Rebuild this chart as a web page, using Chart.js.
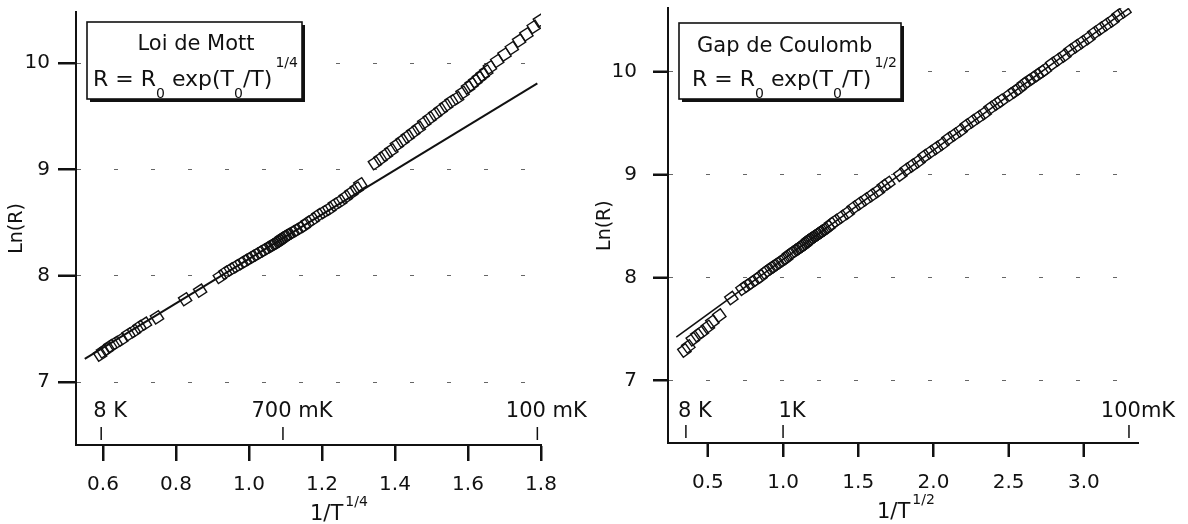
<!DOCTYPE html>
<html><head><meta charset="utf-8">
<script src="https://cdn.jsdelivr.net/npm/chart.js@4.4.1/dist/chart.umd.min.js"></script>
<style>
html,body{margin:0;padding:0;background:#fff;width:1188px;height:524px;overflow:hidden}
.panel{position:absolute;top:0;width:594px;height:524px}
#p1{left:0}#p2{left:594px}
</style></head><body>
<div class="panel" id="p1"><canvas id="c1"></canvas></div>
<div class="panel" id="p2"><canvas id="c2"></canvas></div>
<script>
// ---------- DATA ----------
const mottX = [0.592,0.600,0.610,0.620,0.635,0.650,0.670,0.685,0.700,0.715,0.748,0.825,0.866,0.920,0.935,0.950,0.965,0.980,0.990,1.000,1.010,1.020,1.030,1.040,1.050,1.060,1.065,1.070,1.075,1.080,1.085,1.090,1.095,1.100,1.105,1.110,1.120,1.130,1.140,1.150,1.160,1.175,1.190,1.205,1.220,1.235,1.250,1.265,1.280,1.295,1.305,1.345,1.360,1.375,1.390,1.405,1.420,1.435,1.450,1.465,1.480,1.495,1.510,1.525,1.540,1.555,1.570,1.585,1.600,1.610,1.620,1.630,1.640,1.650,1.660,1.680,1.700,1.720,1.740,1.760,1.780,1.797];
const mottY = [7.26,7.29,7.31,7.34,7.37,7.40,7.45,7.48,7.52,7.55,7.61,7.78,7.86,7.99,8.03,8.06,8.09,8.12,8.14,8.16,8.18,8.20,8.22,8.24,8.26,8.28,8.29,8.30,8.31,8.32,8.33,8.35,8.36,8.37,8.38,8.39,8.41,8.43,8.45,8.47,8.50,8.53,8.57,8.60,8.63,8.67,8.70,8.74,8.78,8.82,8.86,9.06,9.10,9.14,9.18,9.23,9.27,9.31,9.35,9.39,9.44,9.48,9.52,9.56,9.60,9.64,9.67,9.72,9.77,9.80,9.83,9.86,9.89,9.92,9.96,10.02,10.08,10.14,10.21,10.27,10.34,10.40];
const mottFitX = [0.55, 1.79];
const mottFitY = [7.22, 9.81];
const mottXTicks = [0.6, 0.8, 1.0, 1.2, 1.4, 1.6, 1.8];
const mottXTickLabels = ['0.6','0.8','1.0','1.2','1.4','1.6','1.8'];
const mottTempTicks = [0.595, 1.093, 1.79];
const mottTempLabels = ['8 K', '700 mK', '100 mK'];

const coulX = [0.344,0.370,0.400,0.430,0.460,0.500,0.530,0.576,0.656,0.730,0.760,0.790,0.820,0.850,0.880,0.900,0.920,0.940,0.960,0.980,1.000,1.020,1.040,1.060,1.080,1.100,1.110,1.120,1.130,1.140,1.150,1.160,1.170,1.180,1.190,1.200,1.210,1.220,1.230,1.240,1.250,1.260,1.280,1.300,1.320,1.350,1.390,1.430,1.470,1.510,1.550,1.590,1.630,1.670,1.700,1.780,1.820,1.860,1.900,1.940,1.980,2.020,2.060,2.100,2.140,2.180,2.220,2.260,2.300,2.340,2.380,2.420,2.450,2.510,2.540,2.570,2.600,2.630,2.660,2.690,2.720,2.740,2.790,2.830,2.870,2.910,2.950,2.990,3.030,3.070,3.110,3.150,3.190,3.230,3.270];
const coulY = [7.29,7.33,7.40,7.44,7.47,7.52,7.57,7.63,7.80,7.89,7.92,7.95,7.98,8.01,8.05,8.07,8.09,8.11,8.13,8.15,8.17,8.19,8.22,8.24,8.26,8.28,8.29,8.30,8.31,8.32,8.33,8.35,8.36,8.37,8.38,8.39,8.40,8.41,8.42,8.43,8.44,8.45,8.47,8.49,8.52,8.55,8.59,8.63,8.68,8.72,8.76,8.80,8.84,8.89,8.92,9.00,9.05,9.09,9.13,9.18,9.22,9.26,9.30,9.35,9.39,9.43,9.48,9.52,9.56,9.60,9.65,9.69,9.72,9.78,9.81,9.84,9.88,9.91,9.94,9.97,10.00,10.02,10.08,10.12,10.16,10.21,10.25,10.29,10.33,10.38,10.42,10.46,10.50,10.55,10.59];
const coulFitX = [0.29, 3.30];
const coulFitY = [7.42, 10.62];
const coulXTicks = [0.5, 1.0, 1.5, 2.0, 2.5, 3.0];
const coulXTickLabels = ['0.5','1.0','1.5','2.0','2.5','3.0'];
const coulTempTicks = [0.354, 1.0, 3.30];
const coulTempLabels = ['8 K', '1K', '100mK'];

const yTicks = [7, 8, 9, 10];
const yTickLabels = ['7', '8', '9', '10'];
// ---------------------------

const FONT = "'DejaVu Sans', 'Liberation Sans', sans-serif";
const INK = '#111';

function pts(xs, ys) { return xs.map((x, i) => ({x: x, y: ys[i]})); }

function drawFormula(ctx, x, y, sup) {
  const big = '22px ' + FONT, small = '14px ' + FONT;
  const parts = [
    ['R = R', big, 0], ['0', small, 12], [' exp(T', big, 0], ['0', small, 12], ['/T)', big, 0]
  ];
  let cx = x;
  for (const [t, f, dy] of parts) {
    ctx.font = f; ctx.fillText(t, cx, y + dy); cx += ctx.measureText(t).width;
  }
  ctx.font = small; ctx.fillText(sup, cx + 3, y - 19);
}

function makeDecor(o) {
  return {
    id: 'decor',
    afterDraw(chart) {
      const ctx = chart.ctx, xs = chart.scales.x, ys = chart.scales.y, ca = chart.chartArea;
      ctx.save();
      ctx.fillStyle = INK; ctx.strokeStyle = INK; ctx.textBaseline = 'alphabetic';
      // axis tick marks (outside)
      ctx.lineWidth = 2;
      o.xticks.forEach(v => {
        const px = Math.round(xs.getPixelForValue(v));
        ctx.beginPath(); ctx.moveTo(px, ca.bottom); ctx.lineTo(px, ca.bottom + o.xtl); ctx.stroke();
      });
      yTicks.forEach(v => {
        const py = Math.round(ys.getPixelForValue(v));
        ctx.beginPath(); ctx.moveTo(ca.left - o.ytl, py); ctx.lineTo(ca.left, py); ctx.stroke();
      });
      // temperature ticks inside the plot, just above the x axis
      ctx.lineWidth = 1.5;
      ctx.font = '21px ' + FONT; ctx.textAlign = 'center';
      o.tempTicks.forEach((v, i) => {
        const px = xs.getPixelForValue(v);
        ctx.beginPath(); ctx.moveTo(px, ca.bottom - 18); ctx.lineTo(px, ca.bottom - 5); ctx.stroke();
        ctx.fillText(o.tempLabels[i], px + 9, ca.bottom - o.tempLab);
      });
      // legend box with shadow
      const b = o.box;
      ctx.fillStyle = INK; ctx.fillRect(b.x + 3, b.y + 3, b.w, b.h);
      ctx.fillStyle = '#fff'; ctx.fillRect(b.x, b.y, b.w, b.h);
      ctx.lineWidth = 1.6; ctx.strokeRect(b.x, b.y, b.w, b.h);
      ctx.fillStyle = INK;
      ctx.font = '21px ' + FONT;
      ctx.textAlign = o.title.align;
      ctx.fillText(o.title.text, o.title.x, o.title.y);
      ctx.textAlign = 'left';
      drawFormula(ctx, o.formula.x, o.formula.y, o.formula.sup);
      // x-axis title 1/T^n
      ctx.font = '21px ' + FONT;
      ctx.fillText('1/T', o.xt.x, o.xt.y);
      const w = ctx.measureText('1/T').width;
      ctx.font = '14px ' + FONT;
      ctx.fillText(o.xt.sup, o.xt.x + w + 2, o.xt.y - 14);
      ctx.restore();
    }
  };
}

function buildChart(id, o) {
  const axisFont = {family: FONT, size: 20};
  return new Chart(document.getElementById(id), {
    type: 'scatter',
    data: { datasets: [
      { data: pts(o.px, o.py), showLine: false, pointStyle: 'rect', rotation: o.rot,
        pointRadius: 6.8, pointBorderWidth: 1.4, pointBorderColor: INK,
        pointBackgroundColor: 'rgba(0,0,0,0)', order: 2 },
      { data: pts(o.fx, o.fy), showLine: true, borderColor: INK, borderWidth: o.lw,
        pointRadius: 0, fill: false, order: 1 }
    ]},
    options: {
      responsive: true, maintainAspectRatio: false, animation: false, devicePixelRatio: 1,
      events: [],
      layout: { padding: o.pad },
      plugins: { legend: {display: false}, tooltip: {enabled: false} },
      scales: {
        x: {
          type: 'linear', min: o.xmin, max: o.xmax,
          afterBuildTicks: s => { s.ticks = o.xticks.map(v => ({value: v})); },
          afterFit: s => { s.height = o.xh; s.paddingLeft = 0; s.paddingRight = 0; },
          ticks: { autoSkip: false, maxRotation: 0, padding: o.xpad, color: INK, font: axisFont,
                   callback: (v, i) => o.xlabels[i] },
          grid: { drawOnChartArea: false, drawTicks: true, tickLength: o.xtl, tickWidth: 2, tickColor: INK },
          border: { display: true, color: INK, width: 2 }
        },
        y: {
          type: 'linear', min: o.ymin, max: o.ymax,
          afterBuildTicks: s => { s.ticks = yTicks.map(v => ({value: v})); },
          afterFit: s => { s.width = o.yw; s.paddingTop = 0; s.paddingBottom = 0; },
          ticks: { padding: o.ypad, color: INK, font: axisFont, callback: (v, i) => yTickLabels[i] },
          grid: { drawOnChartArea: true, color: '#666', lineWidth: 1, tickLength: o.ytl,
                  tickWidth: 2, tickColor: INK, tickBorderDash: [] },
          border: { display: true, color: INK, width: 2, dash: [4, 33] },
          title: { display: true, text: 'Ln(R)', color: INK, font: {family: FONT, size: 19},
                   padding: {top: o.tpad, bottom: 0} }
        }
      }
    },
    plugins: [makeDecor(o)]
  });
}

buildChart('c1', {
  px: mottX, py: mottY, fx: mottFitX, fy: mottFitY, rot: -33, lw: 2,
  xmin: 0.526, xmax: 1.8, ymin: 6.41, ymax: 10.48,
  xticks: mottXTicks, xlabels: mottXTickLabels,
  pad: {left: 0, top: 12, right: 53, bottom: 0},
  xh: 79, yw: 76, xpad: 12, xtl: 16, ypad: 8, ytl: 18, tpad: 6,
  tempTicks: mottTempTicks, tempLabels: mottTempLabels, tempLab: 28,
  box: {x: 87, y: 22, w: 215, h: 77},
  title: {text: 'Loi de Mott', align: 'center', x: 196, y: 50},
  formula: {x: 93, y: 86, sup: '1/4'},
  xt: {x: 310, y: 520, sup: '1/4'}
});

buildChart('c2', {
  px: coulX, py: coulY, fx: coulFitX, fy: coulFitY, rot: -36, lw: 1.6,
  xmin: 0.235, xmax: 3.36, ymin: 6.39, ymax: 10.62,
  xticks: coulXTicks, xlabels: coulXTickLabels,
  pad: {left: 0, top: 7, right: 50, bottom: 0},
  xh: 81, yw: 74, xpad: 14, xtl: 14, ypad: 16, ytl: 15, tpad: 0,
  tempTicks: coulTempTicks, tempLabels: coulTempLabels, tempLab: 26,
  box: {x: 85, y: 23, w: 222, h: 76},
  title: {text: 'Gap de Coulomb', align: 'left', x: 103, y: 52},
  formula: {x: 98, y: 86, sup: '1/2'},
  xt: {x: 283, y: 518, sup: '1/2'}
});
</script>
</body></html>
